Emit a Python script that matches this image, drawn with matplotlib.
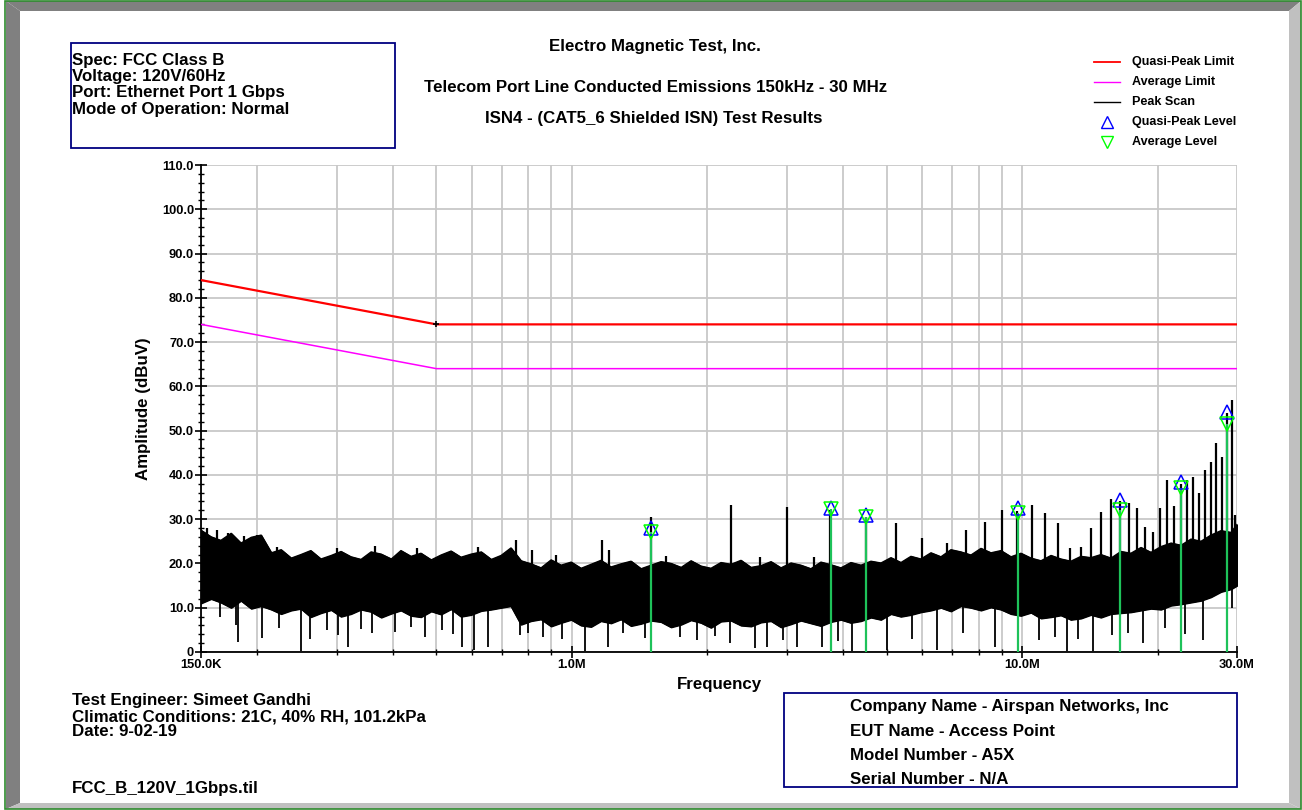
import numpy as np
import matplotlib
matplotlib.use("Agg")
import matplotlib.pyplot as plt
from matplotlib.patches import Rectangle, Polygon
from matplotlib.lines import Line2D

plt.rcParams["font.family"] = ["Liberation Sans", "DejaVu Sans"]
plt.rcParams["font.weight"] = "bold"

# limit lines (MHz, dBuV)
limit_f = [0.15, 0.5, 30.0]
qp_limit = [84.0, 74.0, 74.0]
avg_limit = [74.0, 64.0, 64.0]

# peak scan envelope: upper and lower edge of the noise band (MHz, dBuV)
scan_f = [0.150, 0.158, 0.166, 0.175, 0.184, 0.194, 0.204, 0.215, 0.226, 0.238,
          0.250, 0.263, 0.277, 0.292, 0.307, 0.323, 0.340, 0.358, 0.377, 0.397,
          0.417, 0.439, 0.462, 0.487, 0.512, 0.539, 0.567, 0.597, 0.629, 0.662,
          0.696, 0.732, 0.771, 0.811, 0.854, 0.899, 0.946, 0.996, 1.048, 1.103,
          1.160, 1.221, 1.285, 1.353, 1.424, 1.499, 1.577, 1.660, 1.748, 1.839,
          1.935, 2.036, 2.143, 2.256, 2.374, 2.499, 2.630, 2.768, 2.913, 3.066,
          3.225, 3.394, 3.573, 3.760, 3.957, 4.165, 4.384, 4.614, 4.856, 5.111,
          5.379, 5.661, 5.958, 6.271, 6.600, 6.946, 7.311, 7.695, 8.099, 8.524,
          8.971, 9.442, 9.938, 10.46, 11.01, 11.59, 12.19, 12.83, 13.51, 14.21,
          14.96, 15.75, 16.57, 17.44, 18.36, 19.32, 20.34, 21.41, 22.53, 23.71,
          24.95, 26.26, 27.64, 29.09, 30.0]
scan_hi = [27.5, 26.0, 25.2, 26.8, 24.6, 25.9, 26.4,
           22.4, 23.1, 21.2, 22.0, 22.9, 21.0, 21.8, 22.7, 21.5, 20.9, 22.6, 22.1,
           21.0, 22.9, 21.6, 22.3, 20.8, 21.9, 22.8, 21.4, 22.1, 22.6, 20.9, 21.8,
           23.5,
           20.6, 19.9, 19.0, 20.8, 19.6, 20.3, 18.9, 19.8, 20.7, 19.2, 19.9, 20.5,
           18.8, 19.6, 20.4, 20.0, 19.1, 20.6, 19.4, 18.9, 20.2, 19.8, 20.7, 19.1,
           19.5, 20.4, 19.0, 20.1, 19.6, 18.8, 20.3, 19.7, 19.0, 20.2,
           19.6, 20.5, 20.1, 21.3, 20.2, 21.6, 21.0,
           22.4, 21.5, 23.1, 22.6, 21.9, 23.4, 22.4, 22.9,
           21.5, 22.3, 21.2, 20.6, 21.8, 21.0, 20.5, 21.6,
           21.3, 22.0, 21.2, 22.7, 22.3, 23.6, 22.5, 23.8, 24.6, 24.1, 25.5, 25.0,
           26.4, 27.4, 27.0,
           28.8]
scan_lo = [11.0, 12.0, 11.2, 10.0, 11.6, 9.8, 10.4,
           9.6, 8.6, 9.4, 9.8, 7.9, 8.8, 9.5, 8.0, 8.6, 9.6, 9.1, 7.8,
           8.7, 9.4, 8.2, 7.9, 9.2, 8.5, 9.7, 8.0, 8.4, 9.3, 9.6, 10.0,
           10.4,
           6.2, 7.0, 7.4, 5.8, 6.6, 7.3, 6.0, 5.7, 7.0, 6.5, 7.4, 5.9,
           6.4, 7.1, 6.8, 5.6, 6.2, 7.2, 6.6, 5.5, 6.9, 7.1, 6.0, 5.8,
           6.7, 7.0, 5.6, 6.3, 7.1, 6.5, 5.9, 6.8, 7.3, 6.6,
           7.0, 7.8, 7.3, 8.6, 8.0, 8.4, 9.0,
           9.4, 10.0, 9.2, 10.4, 10.0, 9.4, 10.1, 9.6,
           8.6, 8.2, 8.9, 7.6, 7.9, 8.3, 7.3, 7.6,
           8.4, 7.8, 8.6, 8.8, 9.0, 9.4, 9.8, 9.6, 10.5, 10.8, 11.2, 11.6,
           12.4, 13.6, 14.2,
           15.0]

# narrowband spikes above the noise floor (MHz, dBuV)
spike_f = [0.155, 0.163, 0.172, 0.187, 0.200, 0.221, 0.300, 0.365, 0.452, 0.620,
           0.75, 0.816, 0.92, 1.167, 1.21, 1.5, 1.62, 2.25, 2.62, 3.0, 3.45,
           3.75, 4.5, 5.25, 6.0, 6.8, 7.5, 8.25, 9.0, 9.75, 10.5, 11.25,
           12.0, 12.75, 13.5, 14.25, 15.0, 15.75, 16.5, 17.25, 18.0, 18.75,
           19.5, 20.25, 21.0, 21.75, 22.5, 23.25, 24.0, 24.75, 25.5, 26.25,
           27.0, 27.75, 28.5, 29.25, 29.7]
spike_lvl = [28.0, 27.6, 26.8, 26.2, 26.4, 23.8, 23.6, 23.9, 23.4, 23.8,
             25.3, 23.0, 21.8, 25.3, 23.0, 30.5, 21.6, 33.2, 21.5, 32.8, 21.4,
             32.0, 30.5, 29.1, 25.8, 24.6, 27.5, 29.4, 32.0, 31.8, 33.2, 31.4,
             29.1, 23.5, 23.7, 28.0, 31.6, 34.5, 34.0, 33.6, 32.5, 28.3,
             27.0, 32.5, 38.9, 33.0, 38.0, 38.9, 39.6, 36.0, 41.0, 43.0,
             47.2, 44.0, 54.0, 57.0, 31.0]

# deep drops below the noise floor (MHz, dBuV)
dip_f = [0.165, 0.179, 0.181, 0.205, 0.224, 0.250, 0.262, 0.285, 0.302, 0.318,
         0.340, 0.360, 0.405, 0.440, 0.472, 0.515, 0.545, 0.570, 0.606, 0.651,
         0.767, 0.799, 0.863, 0.95, 1.069, 1.203, 1.299, 1.45, 1.737, 1.896,
         2.08, 2.245, 2.55, 2.71, 2.95, 3.16, 3.59, 3.90, 4.19, 5.01, 5.70,
         6.48, 7.40, 8.70, 10.9, 11.8, 12.58, 13.3, 14.4, 15.8, 17.2, 18.56,
         20.8, 23.0, 25.2, 29.3]
dip_lvl = [8.0, 6.0, 2.3, 3.2, 5.5, 0.2, 3.0, 5.0, 3.8, 1.1,
           5.2, 4.3, 4.5, 5.6, 3.4, 5.0, 4.0, 1.1, 0.5, 1.1,
           3.8, 4.3, 3.4, 3.0, 0.2, 1.1, 4.3, 3.2, 3.4, 2.7,
           3.6, 2.0, 0.9, 1.1, 2.8, 1.1, 1.1, 2.4, 0.2, 0.5, 3.0,
           0.5, 4.2, 1.1, 2.8, 3.4, 0.2, 3.0, 0.2, 3.8, 4.4, 2.0,
           5.4, 4.0, 2.7, 10.0]

# final measurements
meas_f = [1.50, 3.76, 4.51, 9.77, 16.5, 22.55, 28.55]
qp_level = [27.9, 32.6, 31.0, 32.5, 34.3, 38.4, 54.3]
avg_level = [27.1, 32.2, 30.6, 31.5, 32.0, 37.0, 51.6]

W, H = 1302, 810
fig = plt.figure(figsize=(W / 100, H / 100), dpi=100)


def fx(x):
    return x / W


def fy(y):
    return 1 - y / H


# window frame
fig.patches.append(Rectangle((0, 0), 1, 1, transform=fig.transFigure,
                             facecolor="white", edgecolor="none", zorder=-10))
frame = [
    ([(6, 1), (1301, 1), (1289, 11), (20, 11)], "#808080"),
    ([(6, 1), (20, 11), (20, 803), (6, 809)], "#808080"),
    ([(1301, 1), (1301, 809), (1289, 803), (1289, 11)], "#c0c0c0"),
    ([(6, 809), (20, 803), (1289, 803), (1301, 809)], "#c0c0c0"),
]
for pts, col in frame:
    fig.patches.append(Polygon([(fx(a), fy(b)) for a, b in pts], closed=True,
                               transform=fig.transFigure, facecolor=col,
                               edgecolor="none", zorder=-5))
fig.patches.append(Rectangle((fx(5), fy(809)), fx(1296), fy(1) - fy(809),
                             transform=fig.transFigure, facecolor="none",
                             edgecolor="#2e8b2e", lw=1.2, zorder=-4))

ax = fig.add_axes([fx(201), fy(652), fx(1237 - 201), fy(165) - fy(652)])
ax.set_xscale("log")
ax.set_xlim(0.15, 30)
ax.set_ylim(0, 110)

# peak scan
ax.fill_between(scan_f, scan_lo, scan_hi, color="black", lw=1.0, zorder=3)
ax.plot(scan_f, scan_hi, color="black", lw=1.0, zorder=3)
ax.plot(scan_f, scan_lo, color="black", lw=1.0, zorder=3)
base_hi = np.interp(np.log10(spike_f), np.log10(scan_f), scan_hi)
ax.vlines(spike_f, base_hi - 2, spike_lvl, color="black", lw=1.6, zorder=3)
base_lo = np.interp(np.log10(dip_f), np.log10(scan_f), scan_lo)
ax.vlines(dip_f, dip_lvl, base_lo + 2, color="black", lw=1.3, zorder=3)

# limits
ax.plot(limit_f, qp_limit, color="#ff0000", lw=1.6, zorder=4)
ax.plot(limit_f, avg_limit, color="#ff00ff", lw=1.1, zorder=4)
ax.plot([0.5], [74], marker="+", color="black", ms=4, mew=1.2, zorder=5)

# measurements
ax.vlines(meas_f, 0, avg_level, color="#1ec25a", lw=1.6, zorder=5)
ax.plot(meas_f, qp_level, ls="none", marker="^", ms=10, mfc="none",
        mec="#0000ff", mew=1.1, zorder=6)
ax.plot(meas_f, avg_level, ls="none", marker="v", ms=10, mfc="none",
        mec="#00ff00", mew=1.1, zorder=6)

# axes styling
ax.set_xticks([0.15, 1, 10, 30])
ax.set_xticklabels(["150.0K", "1.0M", "10.0M", "30.0M"])
ax.set_xticks([0.2, 0.3, 0.4, 0.5, 0.6, 0.7, 0.8, 0.9,
               2, 3, 4, 5, 6, 7, 8, 9, 20], minor=True)
ax.xaxis.set_minor_formatter(plt.NullFormatter())
ax.set_yticks(np.arange(0, 111, 10))
ax.set_yticklabels(["0"] + ["%.1f" % v for v in range(10, 111, 10)])
ax.set_yticks(np.arange(0, 111, 2), minor=True)
ax.grid(True, which="major", axis="y", color="#c8c8c8", lw=1.3, zorder=0)
ax.grid(True, which="both", axis="x", color="#c8c8c8", lw=1.3, zorder=0)
ax.set_axisbelow(True)
for s in ["top", "right"]:
    ax.spines[s].set_visible(False)
ax.spines["left"].set_linewidth(1.3)
ax.spines["bottom"].set_linewidth(1.3)
ax.tick_params(axis="both", which="major", direction="inout", length=8,
               width=1.2, labelsize=9.3, pad=1)
ax.tick_params(axis="both", which="minor", direction="inout", length=5,
               width=1.0)
for lab in ax.get_xticklabels() + ax.get_yticklabels():
    lab.set_fontweight("bold")

ax.set_ylabel("Amplitude (dBuV)", fontsize=12.2, fontweight="bold")
ax.yaxis.set_label_coords(-0.048, 0.5)
fig.text(fx(719), fy(685), "Frequency", fontsize=12.2, fontweight="bold",
         ha="center", va="center")

# header texts
fig.text(fx(655), fy(46), "Electro Magnetic Test, Inc.", fontsize=12.2,
         ha="center", va="center", fontweight="bold")
fig.text(fx(656), fy(87), "Telecom Port Line Conducted Emissions 150kHz - 30 MHz",
         fontsize=12.2, ha="center", va="center", fontweight="bold")
fig.text(fx(654), fy(118), "ISN4 - (CAT5_6 Shielded ISN) Test Results",
         fontsize=12.2, ha="center", va="center", fontweight="bold")

fig.patches.append(Rectangle((fx(71), fy(148)), fx(395 - 71), fy(43) - fy(148),
                             transform=fig.transFigure, facecolor="none",
                             edgecolor="#000080", lw=1.3))
spec_lines = ["Spec: FCC Class B", "Voltage: 120V/60Hz",
              "Port: Ethernet Port 1 Gbps", "Mode of Operation: Normal"]
for i, t in enumerate(spec_lines):
    fig.text(fx(72), fy(60 + 16.4 * i), t, fontsize=12.2, ha="left",
             va="center", fontweight="bold")

# legend
leg_y = [62, 82, 102, 122, 142]
leg_txt = ["Quasi-Peak Limit", "Average Limit", "Peak Scan",
           "Quasi-Peak Level", "Average Level"]
fig.add_artist(Line2D([fx(1094), fx(1120)], [fy(62)] * 2, color="#ff0000", lw=1.3))
fig.add_artist(Line2D([fx(1094), fx(1120)], [fy(82)] * 2, color="#ff00ff", lw=1.0))
fig.add_artist(Line2D([fx(1094), fx(1120)], [fy(102)] * 2, color="black", lw=1.0))
fig.add_artist(Line2D([fx(1107)], [fy(122)], marker="^", ms=9, mfc="none",
                      mec="#0000ff", mew=1.0, ls="none"))
fig.add_artist(Line2D([fx(1107)], [fy(142)], marker="v", ms=9, mfc="none",
                      mec="#00ff00", mew=1.0, ls="none"))
for y, t in zip(leg_y, leg_txt):
    fig.text(fx(1132), fy(y), t, fontsize=9.1, ha="left", va="center",
             fontweight="bold")

# footer texts
foot_lines = ["Test Engineer: Simeet Gandhi",
              "Climatic Conditions: 21C, 40% RH, 101.2kPa", "Date: 9-02-19"]
for i, t in enumerate(foot_lines):
    fig.text(fx(72), fy(701 + 15.5 * i), t, fontsize=12.2, ha="left",
             va="center", fontweight="bold")
fig.text(fx(72), fy(789), "FCC_B_120V_1Gbps.til", fontsize=12.2, ha="left",
         va="center", fontweight="bold")

fig.patches.append(Rectangle((fx(784), fy(787)), fx(1237 - 784), fy(693) - fy(787),
                             transform=fig.transFigure, facecolor="none",
                             edgecolor="#000080", lw=1.3))
eut_lines = ["Company Name - Airspan Networks, Inc", "EUT Name - Access Point",
             "Model Number - A5X", "Serial Number - N/A"]
for i, t in enumerate(eut_lines):
    fig.text(fx(850), fy(707 + 24 * i), t, fontsize=12.2, ha="left",
             va="center", fontweight="bold")

fig.savefig("out.png", dpi=100)
